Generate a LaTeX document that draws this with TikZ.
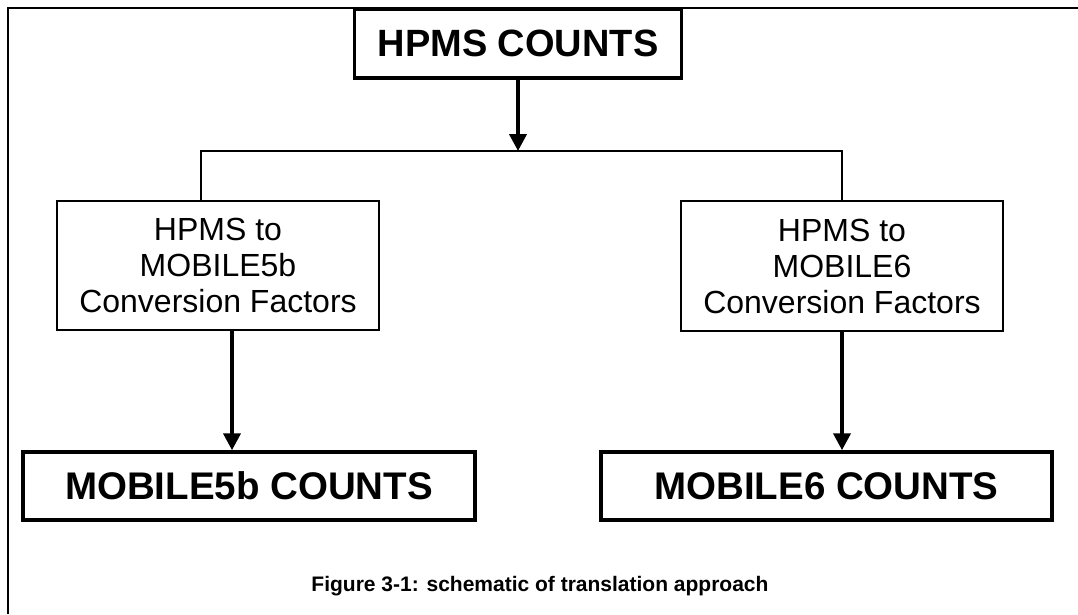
\documentclass[tikz,border=0pt]{standalone}
\usepackage{fontspec}
\setmainfont{Liberation Sans}
\usepackage{tikz}
\usetikzlibrary{arrows.meta,positioning}
\usepackage{xcolor}
\definecolor{boxline}{RGB}{0,0,0}
\tikzstyle{bigbox} = [rectangle, draw=boxline, line width=3.5pt, inner sep=0pt, text centered, font=\bfseries]
\tikzstyle{convbox} = [rectangle, draw=boxline, line width=2pt, inner sep=0pt, align=center, font=\fontsize{32}{36}\selectfont]
\tikzstyle{link} = [draw=boxline, line width=2pt]
\tikzstyle{arrow} = [draw=boxline, line width=4pt, -{Triangle[width=17pt,length=17pt]}]

\begin{document}
\begin{tikzpicture}[x=1pt, y=-1pt]
\useasboundingbox (0,0) rectangle (1078,614);
% outer frame (top and left edges only)
\draw[link] (1078,8) -- (8,8) -- (8,614);

\node[bigbox, minimum width=327pt, minimum height=69pt, font=\bfseries\fontsize{38}{42}\selectfont, fill=white] (hpms) at (518,43.5) {HPMS COUNTS};

\node[convbox, minimum width=322pt, minimum height=129pt] (conv5b) at (218,265.5) {HPMS to\\MOBILE5b\\Conversion Factors};
\node[convbox, minimum width=322pt, minimum height=130pt] (conv6) at (842,266) {HPMS to\\MOBILE6\\Conversion Factors};

\node[bigbox, minimum width=452pt, minimum height=68pt, font=\bfseries\fontsize{38.5}{42}\selectfont] (mob5b) at (249,486) {MOBILE5b COUNTS};
\node[bigbox, minimum width=451pt, minimum height=68pt, font=\bfseries\fontsize{38.5}{42}\selectfont] (mob6) at (826.5,486) {MOBILE6 COUNTS};

\node[font=\bfseries\fontsize{21}{24}\selectfont] (caption) at (540,586) {Figure 3-1: schematic of translation approach};

% split line
\coordinate (splitL) at (201,151);
\coordinate (splitR) at (842,151);
\draw[arrow] (hpms.south) -- (hpms.south |- splitL);
\draw[link] (conv5b.north -| splitL) -- (splitL) -- (splitR) -- (conv6.north -| splitR);

\draw[arrow] ([xshift=14pt]conv5b.south) -- ([xshift=14pt]conv5b.south |- mob5b.north);
\draw[arrow] (conv6.south) -- (conv6.south |- mob6.north);
\end{tikzpicture}
\end{document}
